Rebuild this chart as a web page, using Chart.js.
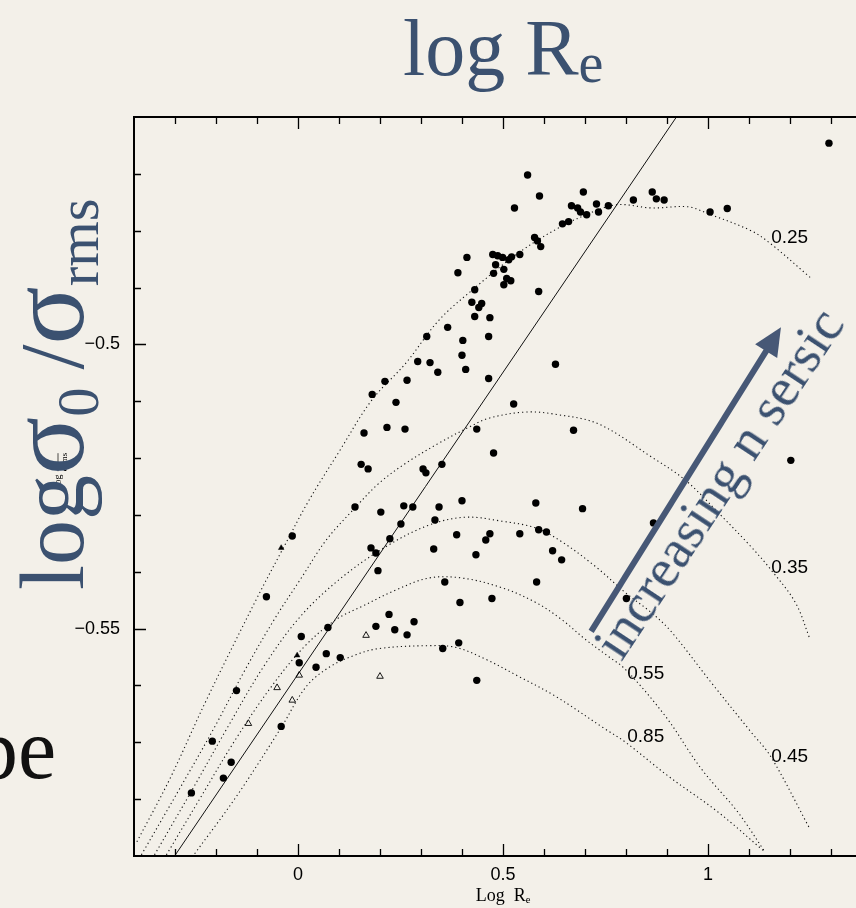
<!DOCTYPE html>
<html>
<head>
<meta charset="utf-8">
<script src="https://cdn.jsdelivr.net/npm/chart.js@4.4.1/dist/chart.umd.min.js"></script>
<style>
  html, body { margin: 0; padding: 0; background: #f3f0e9; overflow: hidden; }
  body { width: 856px; height: 908px; position: relative; }
  #wrap { position: absolute; left: 0; top: 0; width: 880px; height: 908px; }
  .slide { position: absolute; font-family: 'Liberation Serif', serif; line-height: 1; white-space: nowrap; color: #3b5170; }
  #title { left: 403px; top: 8px; font-size: 80px; }
  #title .sub { font-size: 0.7em; position: relative; top: 0.12em; line-height: 0; }
  #ylab { left: 8px; top: 590px; font-size: 90px; transform-origin: 0 0; transform: rotate(-90deg); }
  #ylab .sig { font-size: 1.2em; line-height: 0; }
  #ylab .sub { font-size: 0.65em; position: relative; top: 0.25em; line-height: 0; }
  #trend { left: 583px; top: 637px; font-size: 55px; transform-origin: 0 0; transform: rotate(-56.5deg); }
  #tail { left: -25px; top: 706px; font-size: 86px; color: #111; }
</style>
</head>
<body>
<div id="wrap"><canvas id="fig" width="880" height="908"></canvas></div>
<div class="slide" id="title">log R<span class="sub">e</span></div>
<div class="slide" id="ylab">log<span class="sig">σ</span><span class="sub">0</span>&thinsp;/<span class="sig">σ</span><span class="sub">rms</span></div>
<div class="slide" id="trend">increasing n sersic</div>
<div class="slide" id="tail">pe</div>
<script>
// galaxies: [log Re, log sigma0/sigma_rms]
const CIRCLES = [
  [0.560,-0.4702],[0.589,-0.4739],[0.696,-0.4732],[0.528,-0.4760],[0.667,-0.4756],[0.682,-0.4760],
  [0.689,-0.4767],[0.704,-0.4772],[0.728,-0.4753],[0.733,-0.4767],[0.757,-0.4756],[0.818,-0.4746],
  [0.645,-0.4788],[0.660,-0.4784],[0.577,-0.4812],[0.584,-0.4818],[0.592,-0.4828],[0.541,-0.4842],
  [0.475,-0.4842],[0.487,-0.4844],[0.499,-0.4847],[0.514,-0.4851],[0.521,-0.4846],[0.482,-0.4860],
  [0.502,-0.4868],[0.477,-0.4875],[0.412,-0.4847],[0.390,-0.4874],[0.509,-0.4884],[0.519,-0.4888],
  [0.502,-0.4895],[0.431,-0.4904],[0.587,-0.4907],[0.424,-0.4926],[0.448,-0.4928],[0.441,-0.4935],
  [0.431,-0.4951],[0.468,-0.4953],[0.365,-0.4970],[0.864,-0.4732],[0.874,-0.4744],[0.893,-0.4746],
  [1.005,-0.4767],[1.047,-0.4761],[1.295,-0.4646],[0.314,-0.4986],[0.402,-0.4993],[0.465,-0.4986],
  [0.400,-0.5019],[0.292,-0.5030],[0.322,-0.5032],[0.341,-0.5049],[0.409,-0.5044],[0.212,-0.5065],
  [0.266,-0.5063],[0.465,-0.5060],[0.628,-0.5035],[0.181,-0.5088],[0.239,-0.5102],[0.526,-0.5105],
  [0.217,-0.5146],[0.261,-0.5149],[0.161,-0.5156],[0.436,-0.5149],[0.672,-0.5151],[0.477,-0.5191],
  [0.154,-0.5211],[0.171,-0.5219],[0.305,-0.5219],[0.312,-0.5226],[0.351,-0.5211],[0.139,-0.5286],
  [0.258,-0.5284],[0.280,-0.5286],[0.344,-0.5286],[0.400,-0.5275],[0.580,-0.5279],[0.694,-0.5289],
  [0.202,-0.5295],[0.251,-0.5316],[0.334,-0.5309],[0.224,-0.5342],[0.190,-0.5367],[0.178,-0.5358],
  [0.195,-0.5398],[0.387,-0.5335],[0.468,-0.5333],[0.458,-0.5344],[0.541,-0.5333],[0.587,-0.5326],
  [0.606,-0.5330],[0.331,-0.5360],[0.434,-0.5370],[0.621,-0.5363],[0.643,-0.5379],[0.358,-0.5418],
  [0.582,-0.5418],[0.473,-0.5447],[0.395,-0.5454],[0.222,-0.5475],[0.283,-0.5488],[0.190,-0.5496],
  [0.236,-0.5502],[0.266,-0.5511],[0.392,-0.5525],[0.353,-0.5535],[0.436,-0.5591],[0.801,-0.5447],
  [1.202,-0.5204],[0.867,-0.5314],[-0.077,-0.5444],[0.073,-0.5498],[0.008,-0.5514],[0.069,-0.5544],
  [0.103,-0.5551],[0.003,-0.5560],[0.044,-0.5568],[-0.150,-0.5609],[-0.041,-0.5672],[-0.209,-0.5698],
  [-0.163,-0.5735],[-0.182,-0.5763],[-0.260,-0.5789],[-0.014,-0.5337]
];
const FILLED_TRIANGLES = [[-0.041,-0.5358],[-0.002,-0.5547]];
const OPEN_TRIANGLES = [[0.166,-0.5512],[0.003,-0.5582],[0.200,-0.5584],[-0.051,-0.5604],[-0.014,-0.5626],[-0.121,-0.5667]];

// model tracks, one per label
const CURVE_LABELS = ['0.25', '0.35', '0.45', '0.55', '0.85'];
const CURVE_025 = [[-0.393,-0.5875],[-0.313,-0.5765],[-0.223,-0.5625],[-0.102,-0.5449],[-0.038,-0.5361],[0.027,-0.5274],[0.100,-0.5189],[0.180,-0.5098],[0.263,-0.5033],[0.343,-0.4958],[0.424,-0.4905],[0.538,-0.4839],[0.636,-0.4795],[0.726,-0.4765],[0.782,-0.4754],[0.862,-0.4760],[0.952,-0.4758],[1.000,-0.4770],[1.105,-0.4800],[1.153,-0.4823],[1.249,-0.4882]];
const CURVE_035 = [[-0.382,-0.5898],[-0.289,-0.5782],[-0.204,-0.5674],[-0.131,-0.5575],[-0.058,-0.5484],[0.008,-0.5411],[0.069,-0.5344],[0.141,-0.5286],[0.198,-0.5244],[0.263,-0.5209],[0.343,-0.5174],[0.416,-0.5146],[0.465,-0.5130],[0.555,-0.5119],[0.628,-0.5123],[0.733,-0.5140],[0.862,-0.5198],[0.945,-0.5239],[1.025,-0.5296],[1.105,-0.5356],[1.153,-0.5396],[1.213,-0.5454],[1.249,-0.5519]];
const CURVE_045 = [[-0.350,-0.5898],[-0.260,-0.5786],[-0.172,-0.5674],[-0.085,-0.5568],[0.003,-0.5481],[0.100,-0.5414],[0.214,-0.5356],[0.319,-0.5318],[0.409,-0.5304],[0.497,-0.5311],[0.580,-0.5323],[0.643,-0.5347],[0.726,-0.5391],[0.799,-0.5437],[0.862,-0.5472],[0.910,-0.5505],[1.008,-0.5595],[1.105,-0.5682],[1.153,-0.5725],[1.249,-0.5853]];
const CURVE_055 = [[-0.321,-0.5898],[-0.240,-0.5800],[-0.155,-0.5698],[-0.070,-0.5607],[0.015,-0.5532],[0.093,-0.5484],[0.156,-0.5461],[0.239,-0.5432],[0.319,-0.5411],[0.400,-0.5411],[0.497,-0.5428],[0.580,-0.5454],[0.643,-0.5484],[0.701,-0.5519],[0.757,-0.5549],[0.799,-0.5572],[0.896,-0.5654],[0.984,-0.5747],[1.073,-0.5823],[1.139,-0.5893]];
const CURVE_085 = [[-0.252,-0.5896],[-0.150,-0.5795],[-0.041,-0.5674],[0.020,-0.5602],[0.076,-0.5568],[0.141,-0.5546],[0.198,-0.5535],[0.319,-0.5530],[0.385,-0.5533],[0.458,-0.5554],[0.538,-0.5584],[0.628,-0.5619],[0.750,-0.5677],[0.799,-0.5700],[0.904,-0.5760],[1.025,-0.5823],[1.139,-0.5893]];
const LABEL_X = [1.154, 1.154, 1.154, 0.803, 0.803];
const LABEL_Y = [-0.4812, -0.5393, -0.5725, -0.5579, -0.5691];

// straight reference relation
const LINE_X = [-0.301, 0.923];
const LINE_Y = [-0.59, -0.46];

// trend arrow, tail then head
const ARROW_X = [0.715, 1.178];
const ARROW_Y = [-0.5505, -0.4970];

const X_MIN = -0.4, X_MAX = 1.4;
const Y_MIN = -0.59, Y_MAX = -0.46;
const X_TICK_LABELS = { '0': '0', '5': '0.5', '10': '1' };
const Y_TICK_LABELS = { '-50': '\u22120.5', '-55': '\u22120.55' };

function pts(arr) { return arr.map(p => ({ x: p[0], y: p[1] })); }

const curves = [CURVE_025, CURVE_035, CURVE_045, CURVE_055, CURVE_085];

const datasets = [
  { label: 'galaxies', data: pts(CIRCLES), pointStyle: 'circle', pointRadius: 3.7,
    backgroundColor: '#000', borderColor: '#000', borderWidth: 0 },
  { label: 'filled tri', data: pts(FILLED_TRIANGLES), pointStyle: 'triangle', pointRadius: 3.2,
    backgroundColor: '#000', borderColor: '#000', borderWidth: 0.5 },
  { label: 'open tri', data: pts(OPEN_TRIANGLES), pointStyle: 'triangle', pointRadius: 3.8,
    backgroundColor: 'rgba(0,0,0,0)', borderColor: '#000', borderWidth: 0.9 },
  { label: 'relation', data: LINE_X.map((x, i) => ({ x: x, y: LINE_Y[i] })), showLine: true,
    pointRadius: 0, borderColor: '#111', borderWidth: 1 }
];
curves.forEach((c, i) => {
  datasets.push({ label: CURVE_LABELS[i], data: pts(c), showLine: true, pointRadius: 0,
    borderColor: '#111', borderWidth: 1.1, borderDash: [1.2, 3], tension: 0.35 });
});

// frame with inward ticks on all sides, curve labels, arrow, small axis label
const decor = {
  id: 'decor',
  afterDraw(chart) {
    const ctx = chart.ctx, a = chart.chartArea;
    const xs = chart.scales.x, ys = chart.scales.y;
    ctx.save();
    ctx.strokeStyle = '#000';
    ctx.lineWidth = 2;
    ctx.strokeRect(a.left, a.top, a.right - a.left, a.bottom - a.top);
    ctx.lineWidth = 1.3;
    ctx.beginPath();
    for (let i = -3; i <= 13; i++) {
      const px = Math.round(xs.getPixelForValue(i / 10)) + 0.5;
      const len = i % 5 === 0 ? 12 : 7;
      ctx.moveTo(px, a.bottom); ctx.lineTo(px, a.bottom - len);
      ctx.moveTo(px, a.top); ctx.lineTo(px, a.top + len);
    }
    for (let i = -58; i <= -47; i++) {
      const py = Math.round(ys.getPixelForValue(i / 100)) + 0.5;
      const len = i % 5 === 0 ? 12 : 7;
      ctx.moveTo(a.left, py); ctx.lineTo(a.left + len, py);
      ctx.moveTo(a.right, py); ctx.lineTo(a.right - len, py);
    }
    ctx.stroke();

    ctx.fillStyle = '#000';
    ctx.font = '19px "Liberation Sans", sans-serif';
    ctx.textAlign = 'left';
    ctx.textBaseline = 'middle';
    CURVE_LABELS.forEach((t, i) => {
      ctx.fillText(t, xs.getPixelForValue(LABEL_X[i]), ys.getPixelForValue(LABEL_Y[i]));
    });

    // small fraction label on the y axis
    ctx.save();
    ctx.translate(a.left - 76, ys.getPixelForValue(-0.5216));
    ctx.rotate(-Math.PI / 2);
    ctx.font = '10px "Liberation Serif", serif';
    ctx.textAlign = 'left';
    ctx.textBaseline = 'alphabetic';
    ctx.fillText('log', -20, 3);
    ctx.font = '9px "Liberation Serif", serif';
    ctx.fillText('\u03c3\u2080', -3, -3);
    ctx.fillText('\u03c3rms', -4, 9);
    ctx.lineWidth = 0.7;
    ctx.beginPath(); ctx.moveTo(-4, 0); ctx.lineTo(14, 0); ctx.stroke();
    ctx.restore();

    // trend arrow
    const x0 = xs.getPixelForValue(ARROW_X[0]), y0 = ys.getPixelForValue(ARROW_Y[0]);
    const x1 = xs.getPixelForValue(ARROW_X[1]), y1 = ys.getPixelForValue(ARROW_Y[1]);
    const ang = Math.atan2(y1 - y0, x1 - x0);
    const head = 28, half = 13;
    const bx = x1 - head * Math.cos(ang), by = y1 - head * Math.sin(ang);
    ctx.strokeStyle = '#475876';
    ctx.fillStyle = '#475876';
    ctx.lineWidth = 6;
    ctx.beginPath(); ctx.moveTo(x0, y0); ctx.lineTo(bx + 4 * Math.cos(ang), by + 4 * Math.sin(ang)); ctx.stroke();
    ctx.beginPath();
    ctx.moveTo(x1, y1);
    ctx.lineTo(bx + half * Math.sin(ang), by - half * Math.cos(ang));
    ctx.lineTo(bx - half * Math.sin(ang), by + half * Math.cos(ang));
    ctx.closePath();
    ctx.fill();
    ctx.restore();
  }
};

new Chart(document.getElementById('fig'), {
  type: 'scatter',
  data: { datasets: datasets },
  plugins: [decor],
  options: {
    responsive: false,
    animation: false,
    layout: { padding: { top: 117, right: 6, left: 0, bottom: 0 } },
    plugins: { legend: { display: false }, tooltip: { enabled: false } },
    scales: {
      x: {
        min: X_MIN, max: X_MAX,
        afterFit(s) { s.height = 52; },
        grid: { display: false, drawTicks: false },
        border: { display: false },
        ticks: {
          stepSize: 0.1, autoSkip: false, maxRotation: 0, padding: 8, color: '#000',
          font: { family: '"Liberation Sans", sans-serif', size: 18 },
          callback: v => X_TICK_LABELS[String(Math.round(v * 10))] || ''
        },
        title: {
          display: true, text: 'Log  R\u2091', color: '#000',
          font: { family: '"Liberation Serif", serif', size: 18 },
          padding: { top: 0, bottom: 1 }
        }
      },
      y: {
        min: Y_MIN, max: Y_MAX,
        afterFit(s) { s.width = 134; },
        grid: { display: false, drawTicks: false },
        border: { display: false },
        ticks: {
          stepSize: 0.01, autoSkip: false, padding: 14, color: '#000',
          font: { family: '"Liberation Sans", sans-serif', size: 18 },
          callback: v => Y_TICK_LABELS[String(Math.round(v * 100))] || ''
        }
      }
    }
  }
});
</script>
</body>
</html>
